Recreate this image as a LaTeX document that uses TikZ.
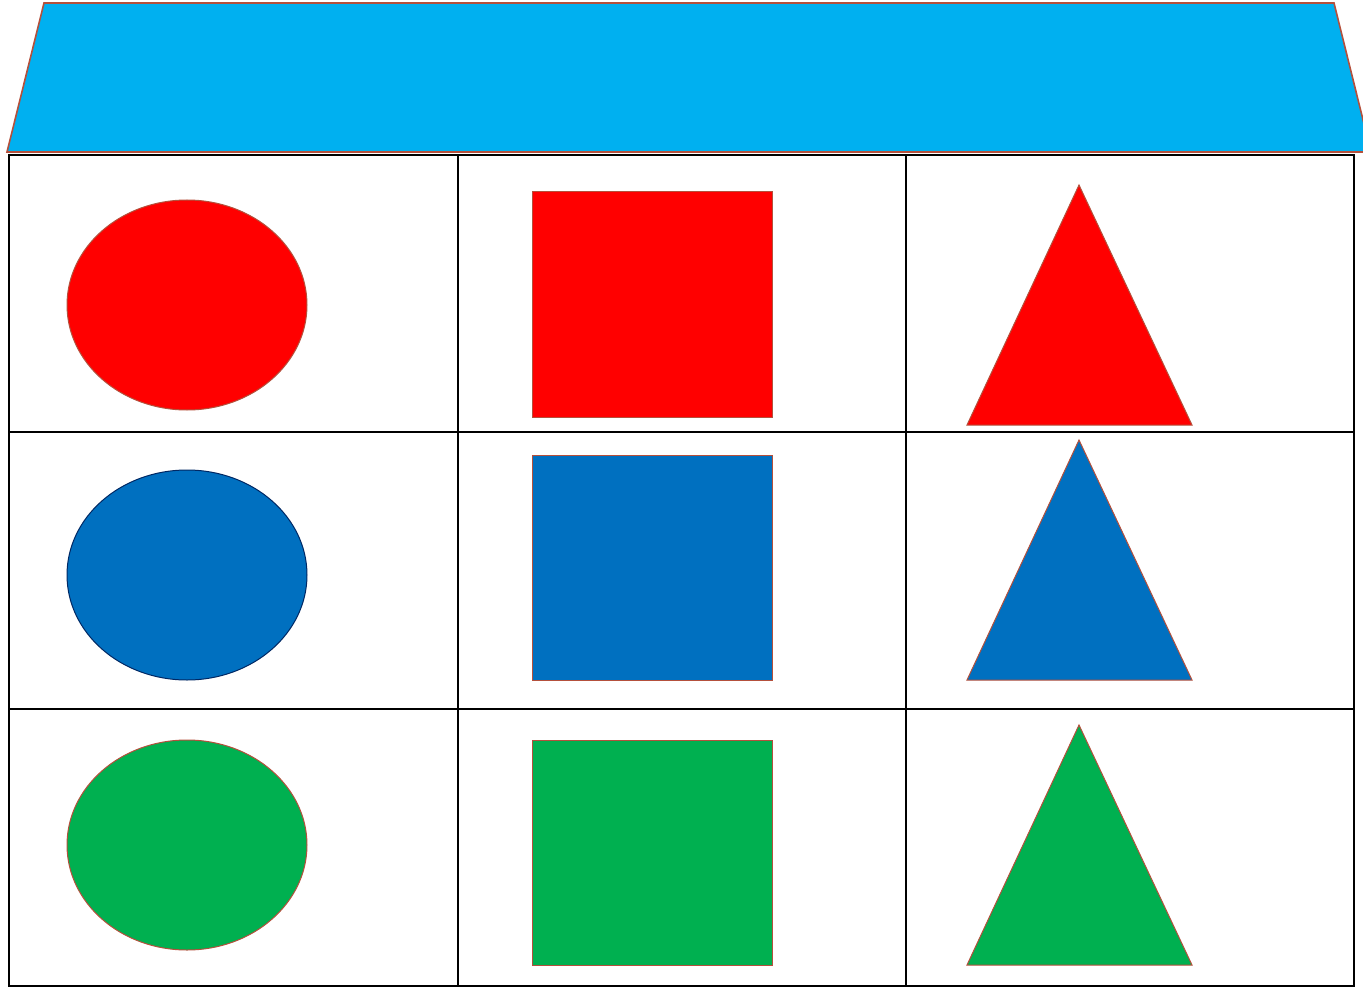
\documentclass[tikz,border=0pt]{standalone}
\definecolor{cyanfill}{RGB}{0,176,240}
\definecolor{redfill}{RGB}{255,0,0}
\definecolor{bluefill}{RGB}{0,112,192}
\definecolor{greenfill}{RGB}{0,176,80}
\definecolor{brownline}{RGB}{180,80,60}
\definecolor{navyline}{RGB}{0,40,100}
\begin{document}
\begin{tikzpicture}[x=1pt,y=-1pt,
  gridline/.style={draw=black,line width=2pt},
  shapeline/.style={draw=brownline,line width=1pt},
  roofstyle/.style={fill=cyanfill,draw=brownline,line width=1.6pt,line join=miter}]
\useasboundingbox (0,0) rectangle (1363,987);
% roof
\draw[roofstyle] (44,3) -- (1334,3) -- (1371,152) -- (7,152) -- cycle;
% grid
\draw[gridline] (9,155) rectangle (1354,986);
\draw[gridline] (458,155) -- (458,986);
\draw[gridline] (906,155) -- (906,986);
\draw[gridline] (9,432) -- (1354,432);
\draw[gridline] (9,709) -- (1354,709);
% circles
\draw[shapeline,fill=redfill] (187,305) ellipse [x radius=120,y radius=105];
\draw[draw=navyline,line width=1pt,fill=bluefill] (187,575) ellipse [x radius=120,y radius=105];
\draw[shapeline,fill=greenfill] (187,845) ellipse [x radius=120,y radius=105];
% squares
\draw[shapeline,fill=redfill] (532,192) rectangle (772,417);
\draw[shapeline,fill=bluefill] (532,455) rectangle (772,680);
\draw[shapeline,fill=greenfill] (532,740) rectangle (772,965);
% triangles
\draw[shapeline,fill=redfill] (1079,185) -- (1192,425) -- (967,425) -- cycle;
\draw[shapeline,fill=bluefill] (1079,440) -- (1192,680) -- (967,680) -- cycle;
\draw[shapeline,fill=greenfill] (1079,725) -- (1192,965) -- (967,965) -- cycle;
\end{tikzpicture}
\end{document}
